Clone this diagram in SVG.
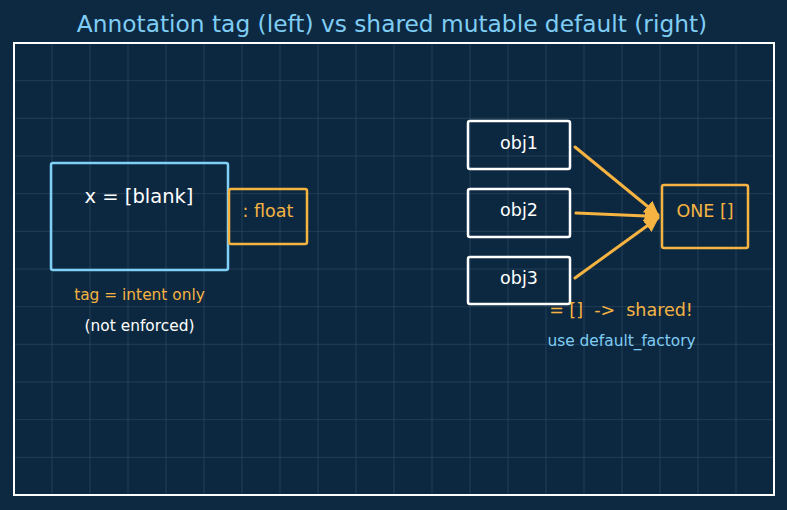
<svg xmlns="http://www.w3.org/2000/svg" width="787" height="510" viewBox="0 0 787 510">
<defs>
<style>
.t{font-family:"DejaVu Sans","Noto Sans",sans-serif;text-anchor:middle}
.grid line{stroke:#2c4a62;stroke-width:1;opacity:0.65}
.wbox{fill:none;stroke:#ffffff;stroke-width:2.5}
.obox{fill:none;stroke:#f5b342;stroke-width:2.5}
.conn line{stroke:#f5b342;stroke-width:3;stroke-linecap:round}
</style>
<marker id="ah" viewBox="0 0 10 10" refX="9" refY="5" markerWidth="5" markerHeight="5" orient="auto" markerUnits="strokeWidth">
<path d="M0,0 L10,5 L0,10 z" fill="#f5b342"/>
</marker>
</defs>
<rect width="787" height="510" fill="#0d2941"/>
<text class="t" x="392" y="31.5" font-size="23.3" fill="#7fcdf4">Annotation tag (left) vs shared mutable default (right)</text>
<rect x="14" y="43" width="760" height="452" fill="#0c2840"/>
<g class="grid">
<line x1="52" y1="43" x2="52" y2="495"/><line x1="90" y1="43" x2="90" y2="495"/><line x1="128" y1="43" x2="128" y2="495"/><line x1="166" y1="43" x2="166" y2="495"/><line x1="204" y1="43" x2="204" y2="495"/><line x1="242" y1="43" x2="242" y2="495"/><line x1="280" y1="43" x2="280" y2="495"/><line x1="318" y1="43" x2="318" y2="495"/><line x1="356" y1="43" x2="356" y2="495"/><line x1="394" y1="43" x2="394" y2="495"/><line x1="432" y1="43" x2="432" y2="495"/><line x1="470" y1="43" x2="470" y2="495"/><line x1="508" y1="43" x2="508" y2="495"/><line x1="546" y1="43" x2="546" y2="495"/><line x1="584" y1="43" x2="584" y2="495"/><line x1="622" y1="43" x2="622" y2="495"/><line x1="660" y1="43" x2="660" y2="495"/><line x1="698" y1="43" x2="698" y2="495"/><line x1="736" y1="43" x2="736" y2="495"/>
<line x1="14" y1="80.7" x2="774" y2="80.7"/><line x1="14" y1="118.3" x2="774" y2="118.3"/><line x1="14" y1="156" x2="774" y2="156"/><line x1="14" y1="193.7" x2="774" y2="193.7"/><line x1="14" y1="231.3" x2="774" y2="231.3"/><line x1="14" y1="269" x2="774" y2="269"/><line x1="14" y1="306.7" x2="774" y2="306.7"/><line x1="14" y1="344.3" x2="774" y2="344.3"/><line x1="14" y1="382" x2="774" y2="382"/><line x1="14" y1="419.7" x2="774" y2="419.7"/><line x1="14" y1="457.3" x2="774" y2="457.3"/>
</g>
<rect x="14" y="43" width="760" height="452" fill="none" stroke="#ffffff" stroke-width="2"/>
<g id="value-box">
<rect x="51" y="163" width="177" height="107" rx="2" fill="none" stroke="#7fcff7" stroke-width="2.5"/>
<text class="t" x="139" y="203" font-size="19.5" fill="#ffffff">x = [blank]</text>
</g>
<g id="float-tag">
<rect x="229" y="189" width="78" height="55" rx="2" class="obox"/>
<text class="t" x="268" y="217" font-size="17.5" fill="#f5b342">: float</text>
</g>
<g id="left-notes">
<text class="t" x="139.5" y="300" font-size="15.4" fill="#f5b342">tag = intent only</text>
<text class="t" x="139.5" y="331" font-size="15.4" fill="#ffffff">(not enforced)</text>
</g>
<g id="obj1"><rect x="468" y="121" width="102" height="48" rx="2" class="wbox"/><text class="t" x="519" y="148.5" font-size="17.5" fill="#ffffff">obj1</text></g>
<g id="obj2"><rect x="468" y="189" width="102" height="48" rx="2" class="wbox"/><text class="t" x="519" y="216" font-size="17.5" fill="#ffffff">obj2</text></g>
<g id="obj3"><rect x="468" y="257" width="102" height="47" rx="2" class="wbox"/><text class="t" x="519" y="284" font-size="17.5" fill="#ffffff">obj3</text></g>
<g id="one-list"><rect x="662" y="185" width="86" height="63" rx="2" class="obox"/><text class="t" x="705" y="217" font-size="17.5" fill="#f5b342">ONE []</text></g>
<g id="connectors" class="conn">
<line x1="575" y1="147" x2="658" y2="215" marker-end="url(#ah)"/>
<line x1="576" y1="213" x2="658" y2="216.5" marker-end="url(#ah)"/>
<line x1="575" y1="278" x2="658" y2="218" marker-end="url(#ah)"/>
</g>
<g id="right-notes">
<text class="t" x="621" y="316" font-size="17.5" fill="#f5b342" xml:space="preserve">= []  -&gt;  shared!</text>
<text class="t" x="621.5" y="346" font-size="15.4" fill="#7fcdf4">use default_factory</text>
</g>
</svg>
